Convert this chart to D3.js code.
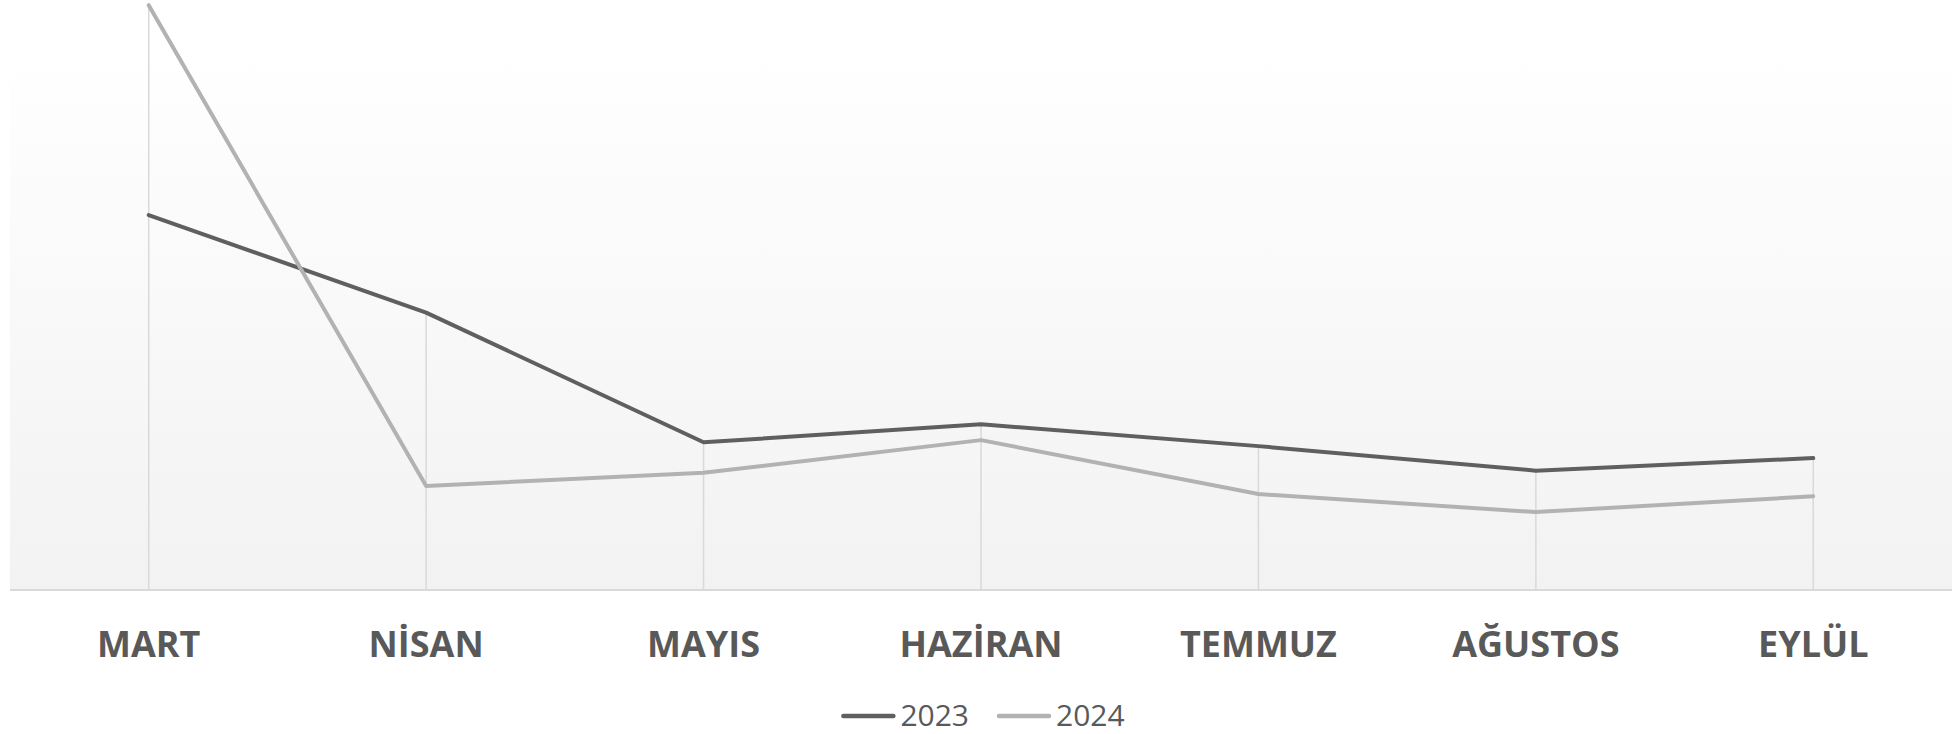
<!DOCTYPE html>
<html>
<head>
<meta charset="utf-8">
<script src="https://cdn.jsdelivr.net/npm/d3@7"></script>
<style>
  body { margin: 0; background: #fff; }
  svg { display: block; }
</style>
</head>
<body>
<div id="chart"></div>
<script>
  // data (arbitrary units, no value axis shown)
  var months = ["MART", "NİSAN", "MAYIS", "HAZİRAN", "TEMMUZ", "AĞUSTOS", "EYLÜL"];
  var values2023 = [68.8, 50.9, 27.1, 30.4, 26.4, 21.9, 24.2];
  var values2024 = [107.3, 19.1, 21.5, 27.5, 17.6, 14.3, 17.2];
  var seriesNames = ["2023", "2024"];
  var seriesColors = ["#5f5f5f", "#b2b2b2"];

  var W = 1958, H = 734;
  var plot = { left: 10, right: 1952, top: 45, bottom: 590 };

  var svg = d3.select("#chart").append("svg")
    .attr("width", W)
    .attr("height", H);

  var x = d3.scaleBand()
    .domain(months)
    .range([plot.left, plot.right])
    .padding(0);

  var y = d3.scaleLinear()
    .domain([0, 100])
    .range([plot.bottom, plot.top]);

  function cx(d) { return x(d) + x.bandwidth() / 2; }

  // plot area background gradient
  var grad = svg.append("defs").append("linearGradient")
    .attr("id", "bg")
    .attr("x1", 0).attr("y1", 0).attr("x2", 0).attr("y2", 1);
  grad.append("stop").attr("offset", "0%").attr("stop-color", "#ffffff");
  grad.append("stop").attr("offset", "100%").attr("stop-color", "#f2f2f2");

  svg.append("rect")
    .attr("x", plot.left)
    .attr("y", plot.top)
    .attr("width", plot.right - plot.left)
    .attr("height", plot.bottom - plot.top)
    .attr("fill", "url(#bg)");

  // drop lines from highest point down to the axis
  svg.append("g").selectAll("line")
    .data(months)
    .enter().append("line")
    .attr("x1", function(d) { return cx(d); })
    .attr("x2", function(d) { return cx(d); })
    .attr("y1", function(d, i) { return y(Math.max(values2023[i], values2024[i])); })
    .attr("y2", y(0))
    .attr("stroke", "#d9d9d9")
    .attr("stroke-width", 1.5);

  // category axis
  var xAxis = svg.append("g")
    .attr("transform", "translate(0," + plot.bottom + ")")
    .call(d3.axisBottom(x).tickSize(0));
  xAxis.select(".domain").remove();
  xAxis.selectAll("text")
    .attr("y", 67)
    .attr("dy", 0)
    .attr("fill", "#595959")
    .style("font-family", "'Open Sans', sans-serif")
    .style("font-weight", "bold")
    .style("font-size", "36px");

  svg.append("line")
    .attr("x1", plot.left)
    .attr("x2", plot.right)
    .attr("y1", y(0))
    .attr("y2", y(0))
    .attr("stroke", "#d9d9d9")
    .attr("stroke-width", 2);

  // series lines
  var line = d3.line()
    .x(function(d, i) { return cx(months[i]); })
    .y(function(d) { return y(d); });

  var allSeries = [values2023, values2024];
  allSeries.forEach(function(vals, k) {
    svg.append("path")
      .datum(vals)
      .attr("d", line)
      .attr("fill", "none")
      .attr("stroke", seriesColors[k])
      .attr("stroke-width", 4)
      .attr("stroke-linejoin", "round")
      .attr("stroke-linecap", "round");
  });

  // legend
  var legend = svg.append("g");
  var lx = 0;
  seriesNames.forEach(function(name, k) {
    legend.append("line")
      .attr("x1", lx + 2)
      .attr("x2", lx + 52)
      .attr("y1", 716)
      .attr("y2", 716)
      .attr("stroke", seriesColors[k])
      .attr("stroke-width", 4.5)
      .attr("stroke-linecap", "round");
    var t = legend.append("text")
      .attr("x", lx + 59)
      .attr("y", 726)
      .attr("fill", "#595959")
      .style("font-family", "'Open Sans', sans-serif")
      .style("font-size", "30px")
      .text(name);
    lx += 59 + t.node().getComputedTextLength() + 28;
  });
  var lw = lx - 28;
  legend.attr("transform", "translate(" + (983 - lw / 2) + ",0)");
</script>
</body>
</html>
